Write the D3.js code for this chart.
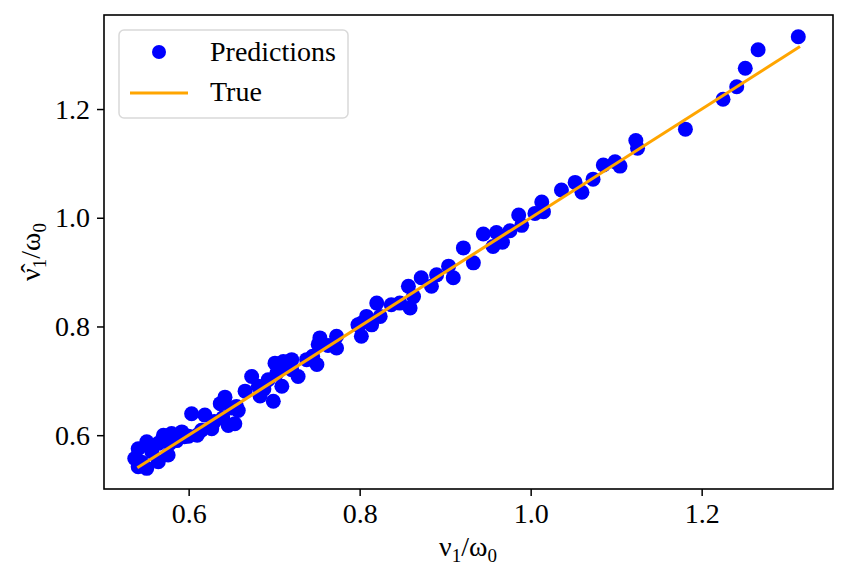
<!DOCTYPE html>
<html>
<head>
<meta charset="utf-8">
<script src="https://cdn.jsdelivr.net/npm/d3@7"></script>
<style>
  body { margin: 0; background: #fff; }
  text { font-family: "Liberation Serif", "DejaVu Serif", serif; }
</style>
</head>
<body>
<div id="chart"></div>
<script>
// true (x) and predicted (y) values
const trueVals = [0.541,0.551,0.537,0.545,0.557,0.541,0.551,0.5645,0.5645,0.576,0.5705,0.580,0.586,0.592,0.600,0.6035,0.615,0.619,0.627,0.610,
  0.637,0.6425,0.6463,0.654,0.658,0.650,0.656,0.666,0.6737,0.6815,0.6835,0.693,0.699,0.701,0.703,0.709,0.7107,0.7205,0.7205,0.728,
  0.738,0.750,0.7515,0.7535,0.773,0.773,0.763,0.798,0.802,0.802,0.808,0.814,0.820,0.824,0.837,0.847,0.857,0.859,0.863,0.872,
  0.884,0.890,0.904,0.9095,0.9213,0.933,0.9446,0.956,0.960,0.967,0.9758,0.986,0.9895,1.005,1.013,1.015,1.036,1.052,1.060,1.073,
  1.085,1.0987,1.1045,1.123,1.125,1.181,1.225,1.241,1.251,1.266,1.313,
  0.630,0.640,0.688,0.745,0.715,0.578,0.595];
const predVals = [0.542,0.539,0.557,0.550,0.569,0.575,0.588,0.585,0.551,0.5635,0.600,0.603,0.590,0.606,0.598,0.6395,0.609,0.637,0.612,0.600,
  0.658,0.670,0.618,0.621,0.6455,0.650,0.653,0.681,0.708,0.690,0.672,0.702,0.6625,0.7325,0.714,0.690,0.7355,0.739,0.7205,0.708,
  0.739,0.730,0.767,0.779,0.782,0.7605,0.765,0.803,0.782,0.806,0.8185,0.803,0.843,0.8185,0.840,0.843,0.874,0.834,0.855,0.8895,
  0.874,0.895,0.911,0.8895,0.9445,0.917,0.970,0.947,0.973,0.955,0.976,1.005,0.986,1.008,1.029,1.011,1.051,1.065,1.047,1.071,
  1.097,1.103,1.095,1.142,1.128,1.163,1.218,1.241,1.275,1.309,1.333,
  0.625,0.632,0.685,0.745,0.725,0.585,0.597];
const trueLine = [0.54, 1.315];
const xTicks = [0.6, 0.8, 1.0, 1.2];
const yTicks = [0.6, 0.8, 1.0, 1.2];
const legendLabels = ["Predictions", "True"];

const W = 848, H = 584;
const pl = 104, pr = 833, pt = 15, pb = 489;
const fs = 28, subFs = 19;

const svg = d3.select("#chart").append("svg")
  .attr("width", W).attr("height", H);

const x = d3.scaleLinear().domain([0.501, 1.3536]).range([pl, pr]);
const y = d3.scaleLinear().domain([0.501, 1.373]).range([pb, pt]);

const pts = trueVals.map((v, i) => ({x: v, y: predVals[i]}));

svg.append("g").selectAll("circle").data(pts).join("circle")
  .attr("cx", d => x(d.x)).attr("cy", d => y(d.y))
  .attr("r", 7.5).attr("fill", "#0000ff");

svg.append("path")
  .datum(trueLine)
  .attr("d", d3.line().x(d => x(d)).y(d => y(d)))
  .attr("stroke", "#ffa500").attr("stroke-width", 3).attr("fill", "none");

// axes
const xAxis = svg.append("g").attr("transform", `translate(0,${pb})`)
  .call(d3.axisBottom(x).tickValues(xTicks).tickFormat(d3.format(".1f")).tickSize(7).tickPadding(7));
const yAxis = svg.append("g").attr("transform", `translate(${pl},0)`)
  .call(d3.axisLeft(y).tickValues(yTicks).tickFormat(d3.format(".1f")).tickSize(7).tickPadding(7));
[xAxis, yAxis].forEach(g => {
  g.select(".domain").remove();
  g.attr("font-family", null).attr("font-size", null);
  g.selectAll("line").attr("stroke", "#000").attr("stroke-width", 1.5);
  g.selectAll("text").attr("font-size", fs).attr("fill", "#000");
});

svg.append("rect")
  .attr("x", pl).attr("y", pt).attr("width", pr - pl).attr("height", pb - pt)
  .attr("fill", "none").attr("stroke", "#000").attr("stroke-width", 1.6);

// axis labels
function fracLabel(sel, hat) {
  sel.append("tspan").text(hat ? "ν\u0302" : "ν");
  sel.append("tspan").attr("font-size", subFs).attr("dy", 6).text("1");
  sel.append("tspan").attr("dy", -6).text("/ω");
  sel.append("tspan").attr("font-size", subFs).attr("dy", 6).text("0");
}
const xl = svg.append("text").attr("x", 468).attr("y", 556)
  .attr("text-anchor", "middle").attr("font-size", fs);
fracLabel(xl, false);

const yl = svg.append("text")
  .attr("transform", "translate(40,252) rotate(-90)")
  .attr("text-anchor", "middle").attr("font-size", fs);
fracLabel(yl, true);

// legend
const lg = svg.append("g");
lg.append("rect").attr("x", 119).attr("y", 30).attr("width", 229).attr("height", 88)
  .attr("rx", 5).attr("fill", "#fff").attr("fill-opacity", 0.8)
  .attr("stroke", "#d9d9d9").attr("stroke-width", 1.5);
lg.append("circle").attr("cx", 159).attr("cy", 52).attr("r", 7).attr("fill", "#0000ff");
lg.append("line").attr("x1", 130).attr("x2", 188).attr("y1", 93).attr("y2", 93)
  .attr("stroke", "#ffa500").attr("stroke-width", 3);
lg.selectAll("text.lab").data(legendLabels).join("text")
  .attr("class", "lab")
  .attr("x", 210).attr("y", (d, i) => 61 + i * 40)
  .attr("font-size", fs).attr("fill", "#000").text(d => d);
</script>
</body>
</html>
